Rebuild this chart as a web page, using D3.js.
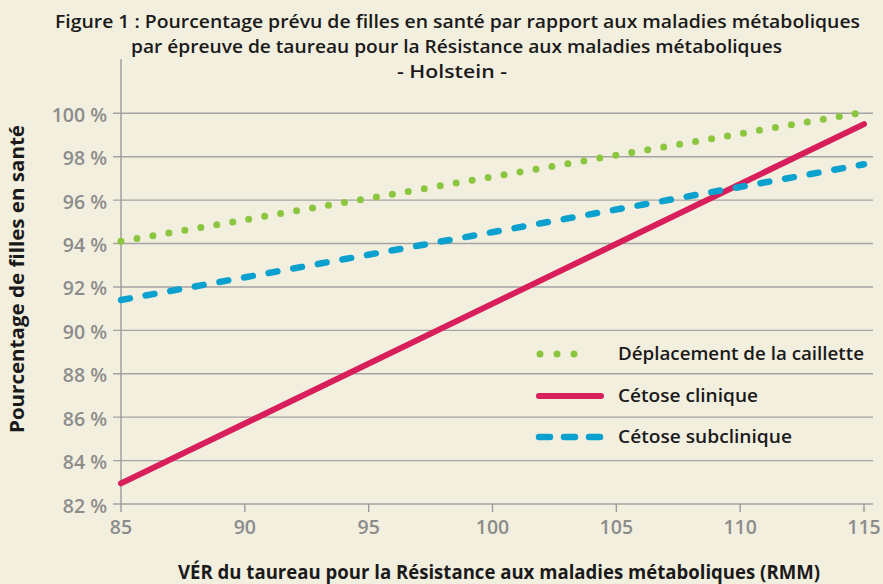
<!DOCTYPE html>
<html>
<head>
<meta charset="utf-8">
<script src="https://cdn.jsdelivr.net/npm/d3@7"></script>
<style>
body{margin:0;background:#f3efdf;}
svg{display:block;}
text{font-family:"Open Sans",Lato,sans-serif;}
</style>
</head>
<body>
<svg></svg>
<script>
// valeurs
var xVals=[85, 115];
var deplacement=[94.1, 100.05];
var cetoseClinique=[82.95, 99.5];
var cetoseSub=[91.4, 97.65];
var xTicks=[85, 90, 95, 100, 105, 110, 115];
var yTicks=[82, 84, 86, 88, 90, 92, 94, 96, 98, 100];
var seriesNames=["Déplacement de la caillette", "Cétose clinique", "Cétose subclinique"];
var titleLines=["Figure 1 : Pourcentage prévu de filles en santé par rapport aux maladies métaboliques",
  "par épreuve de taureau pour la Résistance aux maladies métaboliques",
  "- Holstein -"];

var width=883;
var height=584;

var svg=d3.select("svg")
.attr("width", width)
.attr("height", height)

svg.append("rect").attr("width", width).attr("height", height).attr("fill", "#f3efdf");

var x=d3.scaleLinear().domain([85, 115]).range([121, 864]);
var y=d3.scaleLinear().domain([82, 102.5]).range([504, 59]);

// grille
svg.selectAll(".grid")
.data(yTicks)
.enter()
.append("line")
.attr("x1", 113)
.attr("x2", 873)
.attr("y1", function(d){return y(d);})
.attr("y2", function(d){return y(d);})
.attr("stroke", "#a3a3a3")
.attr("stroke-width", 1.4);

// axe y
svg.append("line")
.attr("x1", x(85)).attr("x2", x(85))
.attr("y1", y(82)).attr("y2", y(102.5))
.attr("stroke", "#9a9a9a").attr("stroke-width", 1.4);

svg.selectAll(".ylab")
.data(yTicks)
.enter()
.append("text")
.text(function(d){return d+" %";})
.attr("x", 107)
.attr("y", function(d){return y(d)+8.5;})
.attr("text-anchor", "end")
.attr("font-size", 19.5)
.attr("font-weight", 600)
.attr("fill", "#8c8c8c");

// axe x
svg.selectAll(".xtick")
.data(xTicks)
.enter()
.append("line")
.attr("x1", function(d){return x(d);})
.attr("x2", function(d){return x(d);})
.attr("y1", y(82))
.attr("y2", y(82)+8)
.attr("stroke", "#9a9a9a").attr("stroke-width", 1.4);

svg.selectAll(".xlab")
.data(xTicks)
.enter()
.append("text")
.text(function(d){return d;})
.attr("x", function(d){return x(d);})
.attr("y", 534)
.attr("text-anchor", "middle")
.attr("font-size", 19.5)
.attr("font-weight", 600)
.attr("fill", "#8c8c8c");

var line=d3.line()
.x(function(d){return x(d[0]);})
.y(function(d){return y(d[1]);});

svg.append("path")
.datum(d3.zip(xVals, deplacement))
.attr("d", line)
.attr("fill", "none")
.attr("stroke", "#8cc63f")
.attr("stroke-width", 7)
.attr("stroke-linecap", "round")
.attr("stroke-dasharray", "0 16.2");

svg.append("path")
.datum(d3.zip(xVals, cetoseClinique))
.attr("d", line)
.attr("fill", "none")
.attr("stroke", "#d81e5b")
.attr("stroke-width", 6)
.attr("stroke-linecap", "round");

svg.append("path")
.datum(d3.zip(xVals, cetoseSub))
.attr("d", line)
.attr("fill", "none")
.attr("stroke", "#0ba1cf")
.attr("stroke-width", 6.5)
.attr("stroke-linecap", "round")
.attr("stroke-dasharray", "9 16");

// légende
var legY=[354, 396, 437];
var legW=[246, 140, 174];
var legStyle=[
  {c:"#8cc63f", w:7, dash:"0 17"},
  {c:"#d81e5b", w:6, dash:null},
  {c:"#0ba1cf", w:6.5, dash:"11 14"}
];
seriesNames.forEach(function(n,i){
  var l=svg.append("line")
  .attr("x1", i==0?540:539).attr("x2", i==0?591:601)
  .attr("y1", legY[i]).attr("y2", legY[i])
  .attr("stroke", legStyle[i].c)
  .attr("stroke-width", legStyle[i].w)
  .attr("stroke-linecap", "round");
  if (legStyle[i].dash) l.attr("stroke-dasharray", legStyle[i].dash);
  svg.append("text")
  .text(n)
  .attr("x", 618)
  .attr("y", legY[i]+6)
  .attr("textLength", legW[i])
  .attr("lengthAdjust", "spacingAndGlyphs")
  .attr("font-size", 18)
  .attr("font-weight", 600)
  .attr("fill", "#1a1a1a");
});

// titres
var tl=[{y:28, x1:55, x2:860},{y:53, x1:131, x2:782},{y:78, x1:397, x2:507}];
titleLines.forEach(function(t,i){
  svg.append("text")
  .text(t)
  .attr("x", tl[i].x1)
  .attr("y", tl[i].y)
  .attr("textLength", tl[i].x2-tl[i].x1)
  .attr("lengthAdjust", "spacingAndGlyphs")
  .attr("font-size", 17.5)
  .attr("font-weight", 600)
  .attr("fill", "#1a1a1a");
});

svg.append("text")
.text("VÉR du taureau pour la Résistance aux maladies métaboliques (RMM)")
.attr("x", 178)
.attr("y", 579)
.attr("textLength", 642)
.attr("lengthAdjust", "spacingAndGlyphs")
.attr("font-size", 19)
.attr("font-weight", 700)
.attr("fill", "#1a1a1a");

svg.append("text")
.text("Pourcentage de filles en santé")
.attr("transform", "translate(24,433) rotate(-90)")
.attr("textLength", 308)
.attr("lengthAdjust", "spacingAndGlyphs")
.attr("font-size", 19)
.attr("font-weight", 700)
.attr("fill", "#1a1a1a");
</script>
</body>
</html>
